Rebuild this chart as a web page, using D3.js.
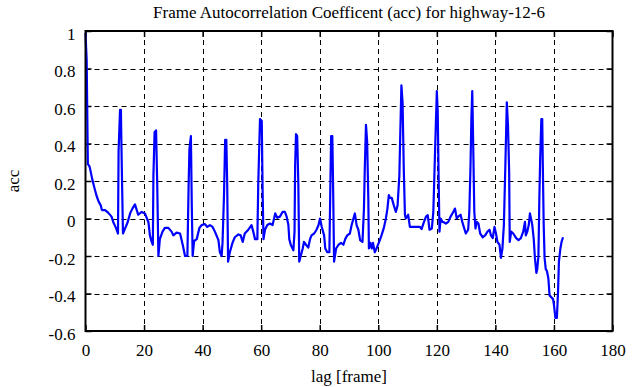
<!DOCTYPE html>
<html><head><meta charset="utf-8">
<script src="https://cdn.jsdelivr.net/npm/d3@7"></script>
<style>body{margin:0;background:#fff}svg{display:block}</style>
</head><body><svg id="c" width="635" height="387" font-family="Liberation Serif, serif"></svg>
<script>
const title = "Frame Autocorrelation Coefficent (acc) for highway-12-6";
const xLabel = "lag [frame]";
const yLabel = "acc";
const xTicks = [0,20,40,60,80,100,120,140,160,180];
const xTickLabels = ["0","20","40","60","80","100","120","140","160","180"];
const yTicks = [1,0.8,0.6,0.4,0.2,0,-0.2,-0.4,-0.6];
const yTickLabels = ["1","0.8","0.6","0.4","0.2","0","-0.2","-0.4","-0.6"];
const lag = [0,0.4,0.8,1.3,1.5,2.3,3.1,3.8,4.5,5.2,5.6,6.7,7.8,8.9,9.5,10.4,11.1,11.3,11.8,12.1,12.2,12.5,12.8,13.6,14.4,15.3,16.1,16.9,17.5,18.0,19.2,20.3,21.5,22.0,22.6,23.0,23.2,23.6,24.1,24.5,24.9,25.4,26.3,27.1,28.3,29.4,30.0,31.1,32.3,33.2,34.0,34.8,35.2,35.5,36.0,36.3,36.6,37.1,38.0,38.9,39.7,40.8,41.6,42.5,43.4,44.2,45.4,45.9,46.5,46.8,47.3,47.7,48.1,48.4,48.7,49.3,50.2,51.0,52.2,53.0,53.7,54.4,55.6,56.7,57.3,57.9,58.7,59.0,59.6,60.2,60.5,60.8,61.3,62.1,63.0,63.9,64.8,65.5,66.4,67.3,68.1,68.7,69.3,69.6,70.1,71.0,71.4,71.6,71.9,72.3,72.7,73.0,73.5,74.2,74.6,75.3,76.1,76.7,77.2,78.1,78.9,79.6,80.1,80.7,81.5,81.9,82.6,83.3,83.5,83.9,84.3,84.6,84.9,85.6,86.4,87.3,88.1,88.7,89.4,90.3,90.9,91.7,92.0,92.6,93.2,93.8,94.6,95.1,95.4,95.8,96.2,96.6,96.8,97.3,97.8,98.2,98.8,99.4,100.3,101.1,101.9,102.6,103.1,103.6,104.0,104.6,105.3,106.0,106.6,107.2,107.5,107.9,108.3,108.7,109.1,109.4,110.2,110.8,112.0,113.1,114.2,114.8,115.4,116.3,116.9,117.5,118.3,118.8,119.4,120.0,120.3,120.6,120.9,121.3,121.9,122.4,123.1,123.9,124.7,125.6,126.2,126.8,127.3,128.1,128.7,129.3,129.9,130.7,131.1,131.5,131.8,132.1,132.5,132.8,133.2,133.6,134.2,134.8,135.7,136.5,137.3,138.0,138.5,139.1,139.7,140.2,140.7,141.4,141.9,142.4,142.9,143.4,143.9,144.3,144.7,144.9,145.4,146.1,147.1,147.9,148.7,149.5,150.1,150.4,150.9,151.4,151.8,152.3,152.6,153.1,153.5,154.0,154.3,154.7,155.0,155.3,155.7,156.0,156.2,156.5,156.8,157.2,157.6,158.1,158.5,159.1,159.7,160.0,160.5,161.0,161.4,161.7,162.2,162.6,163.1];
const acc = [0.99,0.84,0.29,0.28,0.27,0.21,0.16,0.12,0.09,0.07,0.045,0.045,0.03,0.01,-0.02,-0.05,-0.08,0.36,0.58,0.58,0.46,0.18,-0.08,-0.05,-0.02,0.03,0.055,0.075,0.045,0.02,0.035,0.027,-0.02,-0.09,-0.125,-0.14,0.23,0.46,0.47,0.18,-0.2,-0.11,-0.07,-0.05,-0.05,-0.07,-0.09,-0.075,-0.08,-0.14,-0.2,-0.2,0.16,0.37,0.44,0.07,-0.2,-0.12,-0.11,-0.05,-0.035,-0.03,-0.045,-0.035,-0.045,-0.07,-0.115,-0.18,-0.2,-0.13,0.12,0.42,0.42,0.18,-0.23,-0.18,-0.13,-0.1,-0.085,-0.09,-0.125,-0.08,-0.06,-0.035,-0.07,-0.11,-0.11,0.18,0.53,0.52,0.14,-0.11,-0.06,-0.035,-0.027,-0.035,0.027,0.004,0.01,0.035,0.035,0.01,-0.035,-0.11,-0.14,-0.17,-0.07,0.28,0.45,0.44,0.18,-0.23,-0.2,-0.16,-0.125,-0.14,-0.155,-0.11,-0.09,-0.08,-0.06,-0.035,0.0,-0.045,-0.09,-0.16,-0.18,-0.18,0.035,0.44,0.44,0.14,-0.23,-0.16,-0.14,-0.13,-0.14,-0.11,-0.09,-0.08,-0.035,0.01,0.027,-0.035,-0.06,-0.115,-0.125,0.05,0.27,0.5,0.41,0.1,-0.16,-0.13,-0.16,-0.13,-0.18,-0.16,-0.125,-0.09,-0.05,0.0,0.05,0.125,0.11,0.11,0.07,0.035,0.07,0.23,0.44,0.71,0.62,0.27,0.02,0.0,0.02,-0.045,-0.045,-0.045,-0.045,-0.057,-0.027,0.01,0.018,-0.06,-0.053,0.035,0.36,0.68,0.57,0.23,-0.07,0.0,-0.018,-0.02,-0.027,-0.018,0.01,0.035,0.053,0.0,0.01,0.02,-0.018,-0.05,-0.08,-0.06,0.035,0.28,0.53,0.68,0.32,0.035,-0.053,-0.018,-0.027,-0.08,-0.1,-0.09,-0.07,-0.06,-0.09,-0.105,-0.045,-0.08,-0.125,-0.14,-0.21,-0.16,-0.035,0.28,0.62,0.5,0.25,-0.125,-0.07,-0.08,-0.105,-0.115,-0.105,-0.07,-0.018,-0.09,-0.07,-0.035,0.027,-0.01,-0.035,-0.11,-0.21,-0.29,-0.27,-0.2,0.09,0.32,0.53,0.53,0.28,-0.035,-0.21,-0.27,-0.28,-0.32,-0.41,-0.42,-0.43,-0.46,-0.53,-0.53,-0.39,-0.23,-0.16,-0.125,-0.1];

const L = 85.5, R = 612.5, T = 31, B = 331;
const FONT = "Liberation Serif, serif";
const svg = d3.select("#c");
const x = d3.scaleLinear().domain([0,180]).range([L,R]);
const y = d3.scaleLinear().domain([-0.6,1]).range([B,T]);

// grid
const grid = svg.append("g").attr("stroke","#000").attr("stroke-width",1).attr("stroke-dasharray","5,4");
grid.selectAll(".gx").data(xTicks.slice(1,-1)).join("line")
  .attr("x1",d=>Math.round(x(d))+0.5).attr("x2",d=>Math.round(x(d))+0.5).attr("y1",T).attr("y2",B);
grid.selectAll(".gy").data(yTicks.slice(1,-1)).join("line")
  .attr("y1",d=>Math.round(y(d))+0.5).attr("y2",d=>Math.round(y(d))+0.5).attr("x1",L).attr("x2",R);

// axes with inside ticks
const fx = (d)=>xTickLabels[xTicks.indexOf(d)];
const fy = (d)=>yTickLabels[yTicks.indexOf(d)];
const axB = svg.append("g").attr("transform",`translate(0,${B})`).call(d3.axisBottom(x).tickValues(xTicks).tickFormat(fx).tickSizeInner(-6).tickSizeOuter(0).tickPadding(13));
const axT = svg.append("g").attr("transform",`translate(0,${T})`).call(d3.axisTop(x).tickValues(xTicks).tickFormat("").tickSizeInner(-6).tickSizeOuter(0));
const axL = svg.append("g").attr("transform",`translate(${L},0)`).call(d3.axisLeft(y).tickValues(yTicks).tickFormat(fy).tickSizeInner(-6).tickSizeOuter(0).tickPadding(10));
const axR = svg.append("g").attr("transform",`translate(${R},0)`).call(d3.axisRight(y).tickValues(yTicks).tickFormat("").tickSizeInner(-6).tickSizeOuter(0));
[axB,axT,axL,axR].forEach(a=>{
  a.attr("font-family",FONT).attr("font-size",17);
  a.select(".domain").remove();
  a.selectAll(".tick line").attr("stroke","#000").attr("stroke-width",1.5);
  a.selectAll("text").attr("fill","#000");
});
axL.selectAll(".tick text").attr("y",3);

// data line
const line = d3.line().x((d,i)=>x(lag[i])).y((d,i)=>y(acc[i]));
svg.append("path").datum(acc).attr("d",line).attr("fill","none").attr("stroke","#0000ff").attr("stroke-width",2.2).attr("stroke-linejoin","round");

// frame
svg.append("rect").attr("x",L).attr("y",T).attr("width",R-L).attr("height",B-T).attr("fill","none").attr("stroke","#000").attr("stroke-width",2);

// labels
svg.append("text").attr("x",(L+R)/2).attr("y",18).attr("text-anchor","middle").attr("font-size",17).text(title);
svg.append("text").attr("x",(L+R)/2).attr("y",382).attr("text-anchor","middle").attr("font-size",17).text(xLabel);
svg.append("text").attr("transform",`translate(19,${(T+B)/2}) rotate(-90)`).attr("text-anchor","middle").attr("font-size",17).text(yLabel);
</script></body></html>
